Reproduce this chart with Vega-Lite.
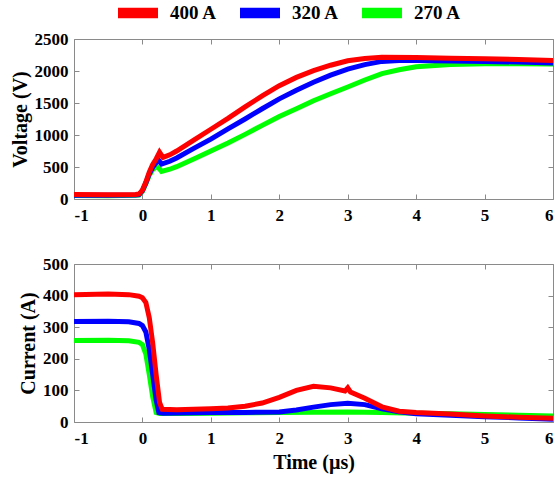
{
  "$schema": "https://vega.github.io/schema/vega-lite/v6.json",
  "background": "white",
  "padding": {"left": 9, "top": -7, "right": 0, "bottom": 5},
  "spacing": 30,
  "config": {
    "font": "Liberation Serif",
    "view": {"stroke": "#8a8a8a", "strokeWidth": 1},
    "axis": {
      "labelFont": "Liberation Serif", "labelFontSize": 17, "labelFontWeight": "bold", "labelColor": "#000",
      "titleFont": "Liberation Serif", "titleFontSize": 20, "titleFontWeight": "bold", "titleColor": "#000",
      "gridColor": "#e0e0e0", "gridWidth": 1, "domain": false, "tickColor": "#8a8a8a", "tickSize": -5, "labelPadding": 11,
      "labelExpr": "datum.value + ''"
    },
    "axisY": {"titlePadding": 4}
  },
  "datasets": {
    "volt": [
      {"t": -1, "s": "270 A", "v": 55}, {"t": -0.5, "s": "270 A", "v": 52}, {"t": -0.1, "s": "270 A", "v": 58}, {"t": -0.05, "s": "270 A", "v": 62},
      {"t": 0, "s": "270 A", "v": 120}, {"t": 0.05, "s": "270 A", "v": 240}, {"t": 0.1, "s": "270 A", "v": 370}, {"t": 0.15, "s": "270 A", "v": 460},
      {"t": 0.2, "s": "270 A", "v": 510}, {"t": 0.25, "s": "270 A", "v": 470}, {"t": 0.28, "s": "270 A", "v": 430}, {"t": 0.4, "s": "270 A", "v": 465},
      {"t": 0.5, "s": "270 A", "v": 505}, {"t": 0.75, "s": "270 A", "v": 625}, {"t": 1, "s": "270 A", "v": 750}, {"t": 1.25, "s": "270 A", "v": 875},
      {"t": 1.5, "s": "270 A", "v": 1010}, {"t": 1.75, "s": "270 A", "v": 1150}, {"t": 2, "s": "270 A", "v": 1290}, {"t": 2.25, "s": "270 A", "v": 1410},
      {"t": 2.5, "s": "270 A", "v": 1535}, {"t": 2.75, "s": "270 A", "v": 1645}, {"t": 3, "s": "270 A", "v": 1750}, {"t": 3.25, "s": "270 A", "v": 1860},
      {"t": 3.5, "s": "270 A", "v": 1960}, {"t": 3.75, "s": "270 A", "v": 2020}, {"t": 4, "s": "270 A", "v": 2065}, {"t": 4.5, "s": "270 A", "v": 2100},
      {"t": 5, "s": "270 A", "v": 2115}, {"t": 5.5, "s": "270 A", "v": 2115}, {"t": 6, "s": "270 A", "v": 2110},

      {"t": -1, "s": "320 A", "v": 60}, {"t": -0.5, "s": "320 A", "v": 58}, {"t": -0.1, "s": "320 A", "v": 63}, {"t": -0.05, "s": "320 A", "v": 68},
      {"t": 0, "s": "320 A", "v": 130}, {"t": 0.05, "s": "320 A", "v": 250}, {"t": 0.1, "s": "320 A", "v": 395}, {"t": 0.15, "s": "320 A", "v": 495},
      {"t": 0.2, "s": "320 A", "v": 565}, {"t": 0.24, "s": "320 A", "v": 600}, {"t": 0.28, "s": "320 A", "v": 545}, {"t": 0.4, "s": "320 A", "v": 590},
      {"t": 0.5, "s": "320 A", "v": 640}, {"t": 0.75, "s": "320 A", "v": 790}, {"t": 1, "s": "320 A", "v": 935}, {"t": 1.25, "s": "320 A", "v": 1095},
      {"t": 1.5, "s": "320 A", "v": 1250}, {"t": 1.75, "s": "320 A", "v": 1410}, {"t": 2, "s": "320 A", "v": 1565}, {"t": 2.25, "s": "320 A", "v": 1700},
      {"t": 2.5, "s": "320 A", "v": 1825}, {"t": 2.75, "s": "320 A", "v": 1935}, {"t": 3, "s": "320 A", "v": 2030}, {"t": 3.25, "s": "320 A", "v": 2100},
      {"t": 3.5, "s": "320 A", "v": 2150}, {"t": 3.75, "s": "320 A", "v": 2165}, {"t": 4, "s": "320 A", "v": 2165}, {"t": 4.5, "s": "320 A", "v": 2155},
      {"t": 5, "s": "320 A", "v": 2150}, {"t": 5.5, "s": "320 A", "v": 2140}, {"t": 6, "s": "320 A", "v": 2125},

      {"t": -1, "s": "400 A", "v": 70}, {"t": -0.5, "s": "400 A", "v": 66}, {"t": -0.1, "s": "400 A", "v": 70}, {"t": -0.05, "s": "400 A", "v": 78},
      {"t": 0, "s": "400 A", "v": 140}, {"t": 0.05, "s": "400 A", "v": 265}, {"t": 0.1, "s": "400 A", "v": 420}, {"t": 0.15, "s": "400 A", "v": 540},
      {"t": 0.2, "s": "400 A", "v": 625}, {"t": 0.25, "s": "400 A", "v": 730}, {"t": 0.3, "s": "400 A", "v": 650}, {"t": 0.4, "s": "400 A", "v": 690},
      {"t": 0.5, "s": "400 A", "v": 750}, {"t": 0.75, "s": "400 A", "v": 920}, {"t": 1, "s": "400 A", "v": 1090}, {"t": 1.25, "s": "400 A", "v": 1260},
      {"t": 1.5, "s": "400 A", "v": 1440}, {"t": 1.75, "s": "400 A", "v": 1610}, {"t": 2, "s": "400 A", "v": 1770}, {"t": 2.25, "s": "400 A", "v": 1900},
      {"t": 2.5, "s": "400 A", "v": 2005}, {"t": 2.75, "s": "400 A", "v": 2090}, {"t": 3, "s": "400 A", "v": 2160}, {"t": 3.25, "s": "400 A", "v": 2195},
      {"t": 3.5, "s": "400 A", "v": 2215}, {"t": 4, "s": "400 A", "v": 2210}, {"t": 4.5, "s": "400 A", "v": 2200}, {"t": 5, "s": "400 A", "v": 2190},
      {"t": 5.5, "s": "400 A", "v": 2180}, {"t": 6, "s": "400 A", "v": 2165}
    ],
    "curr": [
      {"t": -1, "s": "270 A", "i": 258}, {"t": -0.5, "s": "270 A", "i": 259}, {"t": -0.2, "s": "270 A", "i": 257}, {"t": -0.05, "s": "270 A", "i": 252},
      {"t": 0, "s": "270 A", "i": 245}, {"t": 0.05, "s": "270 A", "i": 215}, {"t": 0.1, "s": "270 A", "i": 150}, {"t": 0.15, "s": "270 A", "i": 80},
      {"t": 0.2, "s": "270 A", "i": 30}, {"t": 0.25, "s": "270 A", "i": 27}, {"t": 0.5, "s": "270 A", "i": 27}, {"t": 1, "s": "270 A", "i": 28},
      {"t": 1.5, "s": "270 A", "i": 29}, {"t": 2, "s": "270 A", "i": 30}, {"t": 2.5, "s": "270 A", "i": 31}, {"t": 3, "s": "270 A", "i": 32},
      {"t": 3.5, "s": "270 A", "i": 30}, {"t": 4, "s": "270 A", "i": 28}, {"t": 4.5, "s": "270 A", "i": 26}, {"t": 5, "s": "270 A", "i": 24},
      {"t": 5.5, "s": "270 A", "i": 21}, {"t": 6, "s": "270 A", "i": 19},

      {"t": -1, "s": "320 A", "i": 318}, {"t": -0.5, "s": "320 A", "i": 319}, {"t": -0.2, "s": "320 A", "i": 317}, {"t": -0.05, "s": "320 A", "i": 312},
      {"t": 0, "s": "320 A", "i": 305}, {"t": 0.05, "s": "320 A", "i": 285}, {"t": 0.1, "s": "320 A", "i": 230}, {"t": 0.15, "s": "320 A", "i": 150},
      {"t": 0.2, "s": "320 A", "i": 70}, {"t": 0.24, "s": "320 A", "i": 30}, {"t": 0.3, "s": "320 A", "i": 28}, {"t": 1, "s": "320 A", "i": 30},
      {"t": 1.5, "s": "320 A", "i": 30}, {"t": 2, "s": "320 A", "i": 32}, {"t": 2.25, "s": "320 A", "i": 38}, {"t": 2.5, "s": "320 A", "i": 47},
      {"t": 2.75, "s": "320 A", "i": 55}, {"t": 3, "s": "320 A", "i": 59}, {"t": 3.25, "s": "320 A", "i": 55}, {"t": 3.5, "s": "320 A", "i": 42},
      {"t": 3.75, "s": "320 A", "i": 32}, {"t": 4, "s": "320 A", "i": 26}, {"t": 4.5, "s": "320 A", "i": 21}, {"t": 5, "s": "320 A", "i": 17},
      {"t": 5.5, "s": "320 A", "i": 13}, {"t": 6, "s": "320 A", "i": 9},

      {"t": -1, "s": "400 A", "i": 403}, {"t": -0.5, "s": "400 A", "i": 405}, {"t": -0.2, "s": "400 A", "i": 403}, {"t": -0.05, "s": "400 A", "i": 398},
      {"t": 0, "s": "400 A", "i": 393}, {"t": 0.05, "s": "400 A", "i": 378}, {"t": 0.1, "s": "400 A", "i": 330}, {"t": 0.15, "s": "400 A", "i": 250},
      {"t": 0.2, "s": "400 A", "i": 150}, {"t": 0.25, "s": "400 A", "i": 62}, {"t": 0.29, "s": "400 A", "i": 40}, {"t": 0.5, "s": "400 A", "i": 39},
      {"t": 0.75, "s": "400 A", "i": 40}, {"t": 1, "s": "400 A", "i": 42}, {"t": 1.25, "s": "400 A", "i": 44}, {"t": 1.5, "s": "400 A", "i": 50},
      {"t": 1.75, "s": "400 A", "i": 60}, {"t": 2, "s": "400 A", "i": 78}, {"t": 2.25, "s": "400 A", "i": 100}, {"t": 2.5, "s": "400 A", "i": 113},
      {"t": 2.75, "s": "400 A", "i": 108}, {"t": 2.96, "s": "400 A", "i": 98}, {"t": 3, "s": "400 A", "i": 108}, {"t": 3.04, "s": "400 A", "i": 95},
      {"t": 3.25, "s": "400 A", "i": 75}, {"t": 3.5, "s": "400 A", "i": 48}, {"t": 3.75, "s": "400 A", "i": 34}, {"t": 4, "s": "400 A", "i": 30},
      {"t": 4.5, "s": "400 A", "i": 25}, {"t": 5, "s": "400 A", "i": 19}, {"t": 5.5, "s": "400 A", "i": 15}, {"t": 6, "s": "400 A", "i": 12}
    ]
  },
  "vconcat": [
    {
      "width": 479, "height": 160,
      "data": {"name": "volt"},
      "resolve": {"axis": {"x": "independent", "y": "independent"}},
      "layer": [
        {
          "mark": {"type": "point", "filled": true, "opacity": 0, "stroke": "#000", "strokeWidth": 2},
          "encoding": {
            "x": {"field": "t", "type": "quantitative", "scale": {"domain": [-1, 6], "nice": false},
                  "axis": {"orient": "top", "title": null, "labels": false, "grid": false, "values": [-1, 0, 1, 2, 3, 4, 5, 6]}},
            "y": {"field": "v", "type": "quantitative", "scale": {"domain": [0, 2500], "nice": false},
                  "axis": {"orient": "right", "title": null, "labels": false, "grid": false, "values": [0, 500, 1000, 1500, 2000, 2500]}},
            "color": {"field": "s", "type": "nominal", "sort": null,
                      "scale": {"domain": ["400 A", "320 A", "270 A"], "range": ["#ff0000", "#0000ff", "#00ff00"]},
                      "legend": {"title": null, "orient": "none", "legendX": 44, "legendY": -46, "direction": "horizontal", "padding": 0,
                                 "symbolType": "M-1,-0.22H1V0.22H-1Z", "symbolSize": 1444, "symbolStrokeWidth": 2, "symbolStrokeColor": "#000", "symbolOpacity": 1,
                                 "labelFont": "Liberation Serif", "labelFontSize": 19, "labelFontWeight": "bold", "labelColor": "#000",
                                 "labelOffset": 12, "columnPadding": 20,
                                 "encode": {"symbols": {"update": {"stroke": {"value": "#000"}, "strokeWidth": {"value": 2}}}}}}
          }
        },
        {
          "mark": {"type": "line", "strokeWidth": 5, "clip": true},
          "encoding": {
            "x": {"field": "t", "type": "quantitative", "scale": {"domain": [-1, 6], "nice": false},
                  "axis": {"title": null, "values": [-1, 0, 1, 2, 3, 4, 5, 6], "labelPadding": 13}},
            "y": {"field": "v", "type": "quantitative", "scale": {"domain": [0, 2500], "nice": false},
                  "axis": {"title": "Voltage (V)", "values": [0, 500, 1000, 1500, 2000, 2500]}},
            "color": {"field": "s", "type": "nominal", "sort": null, "legend": null}
          }
        }
      ]
    },
    {
      "width": 479, "height": 158,
      "data": {"name": "curr"},
      "resolve": {"axis": {"x": "independent", "y": "independent"}},
      "layer": [
        {
          "mark": {"type": "line", "opacity": 0},
          "encoding": {
            "x": {"field": "t", "type": "quantitative", "scale": {"domain": [-1, 6], "nice": false},
                  "axis": {"orient": "top", "title": null, "labels": false, "grid": false, "values": [-1, 0, 1, 2, 3, 4, 5, 6]}},
            "y": {"field": "i", "type": "quantitative", "scale": {"domain": [0, 500], "nice": false},
                  "axis": {"orient": "right", "title": null, "labels": false, "grid": false, "values": [0, 100, 200, 300, 400, 500]}}
          }
        },
        {
          "mark": {"type": "line", "strokeWidth": 5, "clip": true},
          "encoding": {
            "x": {"field": "t", "type": "quantitative", "scale": {"domain": [-1, 6], "nice": false},
                  "axis": {"title": "Time (µs)", "values": [-1, 0, 1, 2, 3, 4, 5, 6], "labelPadding": 13, "titlePadding": 6}},
            "y": {"field": "i", "type": "quantitative", "scale": {"domain": [0, 500], "nice": false},
                  "axis": {"title": "Current (A)", "values": [0, 100, 200, 300, 400, 500]}},
            "color": {"field": "s", "type": "nominal", "sort": null, "legend": null}
          }
        }
      ]
    }
  ]
}
